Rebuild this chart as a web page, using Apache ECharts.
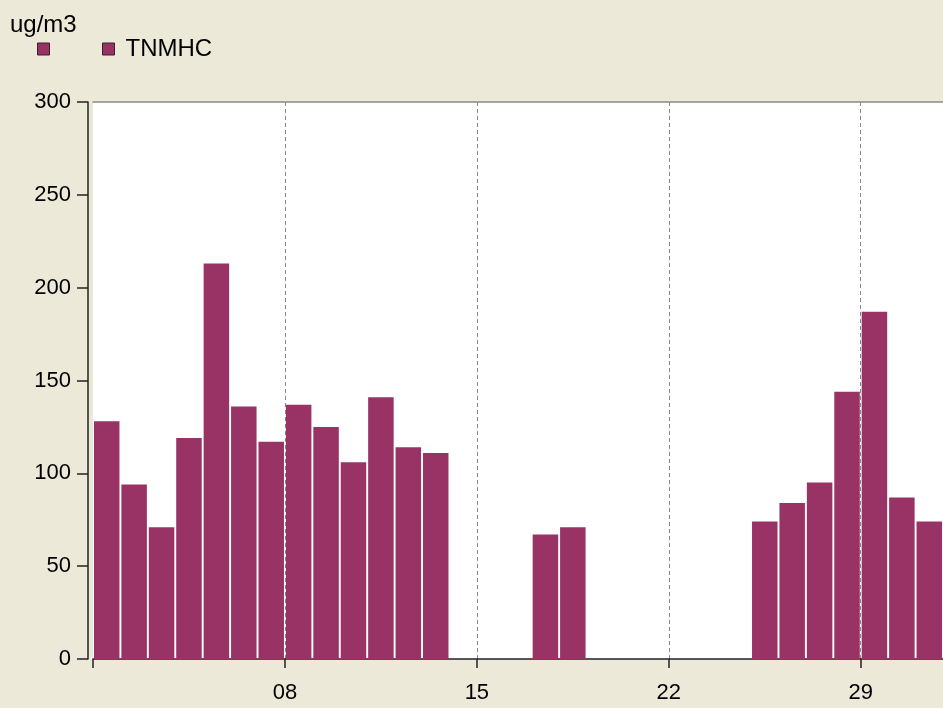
<!DOCTYPE html>
<html>
<head>
<meta charset="utf-8">
<script src="https://cdn.jsdelivr.net/npm/echarts@6/dist/echarts.min.js"></script>
<style>
  html, body { margin: 0; padding: 0; background: #ece9d8; }
  #chart { width: 943px; height: 708px; }
</style>
</head>
<body>
<div id="chart"></div>
<script>
// day of month and TNMHC value (ug/m3), gaps = no data
var days = [1, 2, 3, 4, 5, 6, 7, 8, 9, 10, 11, 12, 13, 17, 18, 25, 26, 27, 28, 29, 30, 31];
var tnmhc = [128, 94, 71, 119, 213, 136, 117, 137, 125, 106, 141, 114, 111, 67, 71, 74, 84, 95, 144, 187, 87, 74];
var unitLabel = 'ug/m3';
var seriesName = 'TNMHC';

// each bar fills its day, from day d to d+1
var barData = days.map(function (d, i) { return [d + 0.5, tnmhc[i]]; });

var font = 'Liberation Sans, Arial';
var barColor = '#993366';
var legendItem = { color: barColor, borderColor: '#3a2030', borderWidth: 1 };

var chart = echarts.init(document.getElementById('chart'));
chart.setOption({
    backgroundColor: '#ece9d8',
    animation: false,
    title: {
        text: unitLabel,
        left: 5, top: 8,
        textStyle: { fontFamily: font, fontSize: 24, fontWeight: 'normal', color: '#000' }
    },
    legend: [
        {
            data: [{ name: ' ', icon: 'rect', itemStyle: legendItem }],
            left: 37, top: 37, padding: 0, itemWidth: 12, itemHeight: 12,
            textStyle: { fontFamily: font, fontSize: 24, color: '#000' }
        },
        {
            data: [{ name: seriesName, icon: 'rect', itemStyle: legendItem }],
            left: 102, top: 37, padding: 0, itemWidth: 12, itemHeight: 12,
            textStyle: { fontFamily: font, fontSize: 24, color: '#000', padding: [0, 0, 0, 6] }
        }
    ],
    grid: {
        left: 93, right: 0, top: 102, bottom: 49,
        show: true, backgroundColor: '#fff', borderWidth: 0
    },
    xAxis: [
        {
            type: 'value', min: 1, max: 32, interval: 7,
            offset: 3,
            axisLine: { lineStyle: { color: '#222', width: 1.5 } },
            axisTick: { length: 9, lineStyle: { color: '#222', width: 1.5 } },
            axisLabel: {
                fontFamily: font, fontSize: 22, color: '#000', margin: 20,
                showMaxLabel: false,
                formatter: function (v) { return v === 1 ? '' : (v < 10 ? '0' + v : '' + v); }
            },
            splitLine: {
                show: true, showMinLine: false,
                lineStyle: { color: '#888', type: [4, 3], width: 1 }
            }
        },
        {
            type: 'value', position: 'top', min: 1, max: 32,
            axisLine: { show: true, lineStyle: { color: '#8a8a80', width: 1.5 } },
            axisTick: { show: false }, axisLabel: { show: false }, splitLine: { show: false }
        }
    ],
    yAxis: {
        type: 'value', min: 0, max: 300, interval: 50,
        offset: 5,
        axisLine: { show: true, lineStyle: { color: '#222', width: 1.5 } },
        axisTick: { show: true, length: 11, lineStyle: { color: '#222', width: 1.5 } },
        axisLabel: { fontFamily: font, fontSize: 22, color: '#000', margin: 17 },
        splitLine: { show: false }
    },
    series: [
        {
            name: ' ', type: 'bar', data: [], barWidth: 25.5, barGap: '-100%',
            itemStyle: { color: barColor }
        },
        {
            name: seriesName, type: 'bar', data: barData, barWidth: 25.5, barGap: '-100%',
            itemStyle: { color: barColor },
            emphasis: { disabled: true }
        }
    ]
});
</script>
</body>
</html>
